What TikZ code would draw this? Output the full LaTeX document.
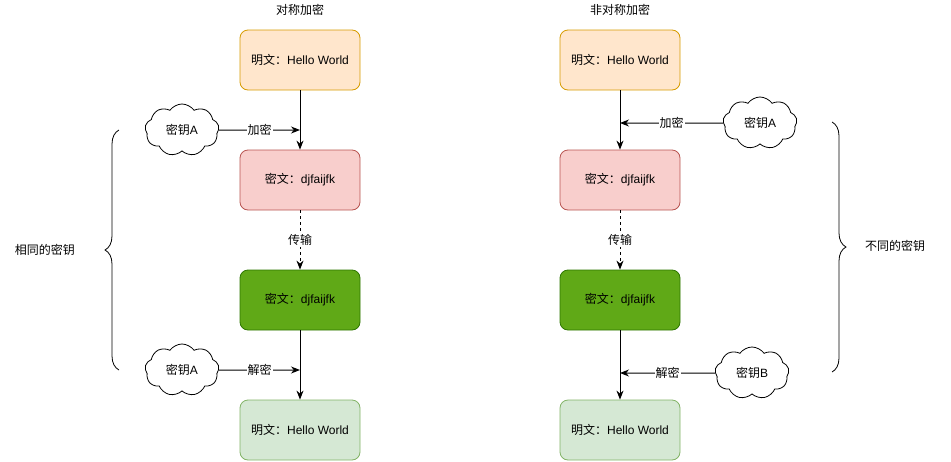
\documentclass[tikz,border=0pt]{standalone}
\usepackage{fontspec}
\setmainfont{Liberation Sans}
\newfontfamily\cjk{Noto Sans CJK SC}
\usepackage{tikz}
\usetikzlibrary{arrows.meta}
\usetikzlibrary{shapes.symbols}
\usetikzlibrary{decorations.pathreplacing}
\newcommand\zh[1]{{\cjk #1}}
\definecolor{plainfill}{HTML}{FFE6CC}
\definecolor{plainline}{HTML}{D79B00}
\definecolor{cipherfill}{HTML}{F8CECC}
\definecolor{cipherline}{HTML}{B85450}
\definecolor{sentfill}{HTML}{60A917}
\definecolor{sentline}{HTML}{2D7600}
\definecolor{backfill}{HTML}{D5E8D4}
\definecolor{backline}{HTML}{82B366}
\tikzset{
	box/.style={draw, rounded corners=8pt, minimum width=120pt, minimum height=60pt, line width=0.8pt, font=\fontsize{12}{14}\selectfont},
	keycloud/.style={draw, cloud, cloud puffs=9, cloud puff arc=110, aspect=1.5, minimum width=74pt, minimum height=52pt, inner sep=0pt, line width=0.8pt, font=\fontsize{12}{14}\selectfont},
	lbl/.style={fill=white, inner sep=1pt, font=\fontsize{12}{14}\selectfont},
	flow/.style={line width=1pt, -{Stealth[length=9pt,width=7pt]}}
}

\begin{document}
\begin{tikzpicture}[x=1pt, y=-1pt]

	\useasboundingbox (0,0) rectangle (951,461);

	% Symmetric side
	\node [font=\fontsize{12}{14}\selectfont] (symtitle) at (300,10) {\zh{对称加密}};
	\node [box, fill=plainfill, draw=plainline] (sa) at (300,60) {\zh{明文：}Hello World};
	\node [box, fill=cipherfill, draw=cipherline] (sb) at (300,180) {\zh{密文：}djfaijfk};
	\node [box, fill=sentfill, draw=sentline] (sc) at (300,300) {\zh{密文：}djfaijfk};
	\node [box, fill=backfill, draw=backline] (sd) at (300,430) {\zh{明文：}Hello World};
	\node [keycloud] (sk1) at (182,130) {\zh{密钥}A};
	\node [keycloud] (sk2) at (182,370) {\zh{密钥}A};
	\coordinate (sj1) at (300,130);
	\coordinate (sj2) at (300,370);

	\draw [flow] (sa) -- (sb);
	\draw [flow, dash pattern=on 3pt off 3pt] (sb) -- node [lbl] {\zh{传输}} (sc);
	\draw [flow] (sc) -- (sd);
	\draw [flow] (sk1.east) -- node [lbl] {\zh{加密}} (sj1);
	\draw [flow] (sk2.east) -- node [lbl] {\zh{解密}} (sj2);

	% Asymmetric side
	\node [font=\fontsize{12}{14}\selectfont] (asymtitle) at (620,10) {\zh{非对称加密}};
	\node [box, fill=plainfill, draw=plainline] (aa) at (620,60) {\zh{明文：}Hello World};
	\node [box, fill=cipherfill, draw=cipherline] (ab) at (620,180) {\zh{密文：}djfaijfk};
	\node [box, fill=sentfill, draw=sentline] (ac) at (620,300) {\zh{密文：}djfaijfk};
	\node [box, fill=backfill, draw=backline] (ad) at (620,430) {\zh{明文：}Hello World};
	\node [keycloud] (ak1) at (760,123) {\zh{密钥}A};
	\node [keycloud] (ak2) at (752,373) {\zh{密钥}B};
	\coordinate (aj1) at (620,123);
	\coordinate (aj2) at (620,373);

	\draw [flow] (aa) -- (ab);
	\draw [flow, dash pattern=on 3pt off 3pt] (ab) -- node [lbl] {\zh{传输}} (ac);
	\draw [flow] (ac) -- (ad);
	\draw [flow] (ak1.west) -- node [lbl] {\zh{加密}} (aj1);
	\draw [flow] (ak2.west) -- node [lbl] {\zh{解密}} (aj2);

	% Braces and their notes
	\draw [line width=0.8pt, decorate, decoration={brace, amplitude=14pt}] (119,370) -- (119,130);
	\node [font=\fontsize{12}{14}\selectfont] (same) at (45,250) {\zh{相同的密钥}};
	\draw [line width=0.8pt, decorate, decoration={brace, amplitude=14pt}] (832,122) -- (832,372);
	\node [font=\fontsize{12}{14}\selectfont] (diff) at (895,246) {\zh{不同的密钥}};

\end{tikzpicture}
\end{document}
